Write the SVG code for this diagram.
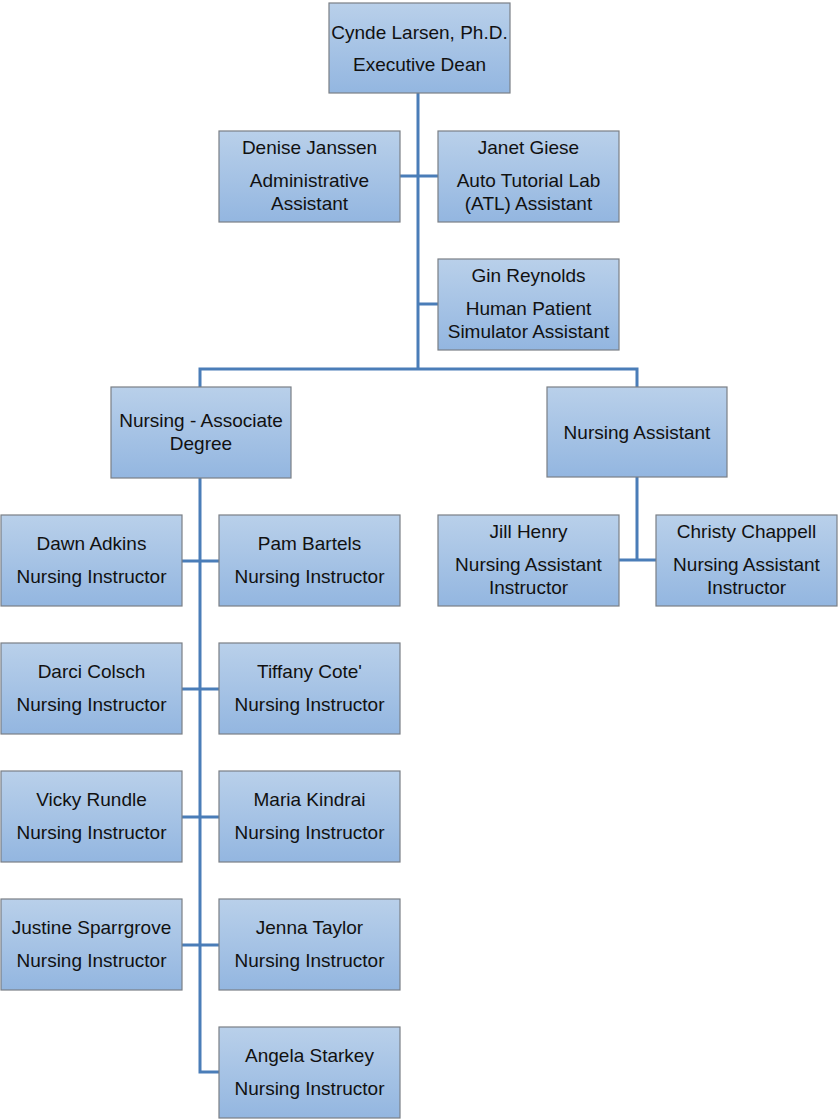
<svg xmlns="http://www.w3.org/2000/svg" width="838" height="1120" viewBox="0 0 838 1120">
<defs>
<linearGradient id="g" x1="0" y1="0" x2="0" y2="1">
<stop offset="0" stop-color="#b9d0ea"/>
<stop offset="1" stop-color="#93b6e0"/>
</linearGradient>
</defs>
<style>
.b{fill:url(#g);stroke:#7a7f85;stroke-width:1.2}
.t{font-family:"Liberation Sans",Arial,sans-serif;font-size:19px;fill:#111;text-anchor:middle}
.c{fill:none;stroke:#4a7db8;stroke-width:3}
</style>
<rect width="838" height="1120" fill="#fff"/>
<g id="connectors">
<path class="c" d="M418 93V369M400 176H438M418 304H438M200 387V369H637V387"/>
<path class="c" d="M200 478V1072H219M182 561H219M182 689H219M182 817H219M182 945H219"/>
<path class="c" d="M637 477V560M619 560H656"/>
</g>
<g id="n1"><rect class="b" x="329" y="3" width="181" height="90"/><text class="t" x="419.5" y="39">Cynde Larsen, Ph.D.</text><text class="t" x="419.5" y="71">Executive Dean</text></g>
<g id="n2"><rect class="b" x="219" y="131" width="181" height="91"/><text class="t" x="309.5" y="154">Denise Janssen</text><text class="t" x="309.5" y="187">Administrative</text><text class="t" x="309.5" y="210">Assistant</text></g>
<g id="n3"><rect class="b" x="438" y="131" width="181" height="91"/><text class="t" x="528.5" y="154">Janet Giese</text><text class="t" x="528.5" y="187">Auto Tutorial Lab</text><text class="t" x="528.5" y="210">(ATL) Assistant</text></g>
<g id="n4"><rect class="b" x="438" y="259" width="181" height="91"/><text class="t" x="528.5" y="282">Gin Reynolds</text><text class="t" x="528.5" y="315">Human Patient</text><text class="t" x="528.5" y="338">Simulator Assistant</text></g>
<g id="n5"><rect class="b" x="111" y="387" width="180" height="91"/><text class="t" x="201" y="427">Nursing - Associate</text><text class="t" x="201" y="450">Degree</text></g>
<g id="n6"><rect class="b" x="547" y="387" width="180" height="90"/><text class="t" x="637" y="439">Nursing Assistant</text></g>
<g id="n7"><rect class="b" x="1" y="515" width="181" height="91"/><text class="t" x="91.5" y="550">Dawn Adkins</text><text class="t" x="91.5" y="583">Nursing Instructor</text></g>
<g id="n8"><rect class="b" x="219" y="515" width="181" height="91"/><text class="t" x="309.5" y="550">Pam Bartels</text><text class="t" x="309.5" y="583">Nursing Instructor</text></g>
<g id="n9"><rect class="b" x="1" y="643" width="181" height="91"/><text class="t" x="91.5" y="678">Darci Colsch</text><text class="t" x="91.5" y="711">Nursing Instructor</text></g>
<g id="n10"><rect class="b" x="219" y="643" width="181" height="91"/><text class="t" x="309.5" y="678">Tiffany Cote'</text><text class="t" x="309.5" y="711">Nursing Instructor</text></g>
<g id="n11"><rect class="b" x="1" y="771" width="181" height="91"/><text class="t" x="91.5" y="806">Vicky Rundle</text><text class="t" x="91.5" y="839">Nursing Instructor</text></g>
<g id="n12"><rect class="b" x="219" y="771" width="181" height="91"/><text class="t" x="309.5" y="806">Maria Kindrai</text><text class="t" x="309.5" y="839">Nursing Instructor</text></g>
<g id="n13"><rect class="b" x="1" y="899" width="181" height="91"/><text class="t" x="91.5" y="934">Justine Sparrgrove</text><text class="t" x="91.5" y="967">Nursing Instructor</text></g>
<g id="n14"><rect class="b" x="219" y="899" width="181" height="91"/><text class="t" x="309.5" y="934">Jenna Taylor</text><text class="t" x="309.5" y="967">Nursing Instructor</text></g>
<g id="n15"><rect class="b" x="219" y="1027" width="181" height="91"/><text class="t" x="309.5" y="1062">Angela Starkey</text><text class="t" x="309.5" y="1095">Nursing Instructor</text></g>
<g id="n16"><rect class="b" x="438" y="515" width="181" height="91"/><text class="t" x="528.5" y="538">Jill Henry</text><text class="t" x="528.5" y="571">Nursing Assistant</text><text class="t" x="528.5" y="594">Instructor</text></g>
<g id="n17"><rect class="b" x="656" y="515" width="181" height="91"/><text class="t" x="746.5" y="538">Christy Chappell</text><text class="t" x="746.5" y="571">Nursing Assistant</text><text class="t" x="746.5" y="594">Instructor</text></g>
</svg>
